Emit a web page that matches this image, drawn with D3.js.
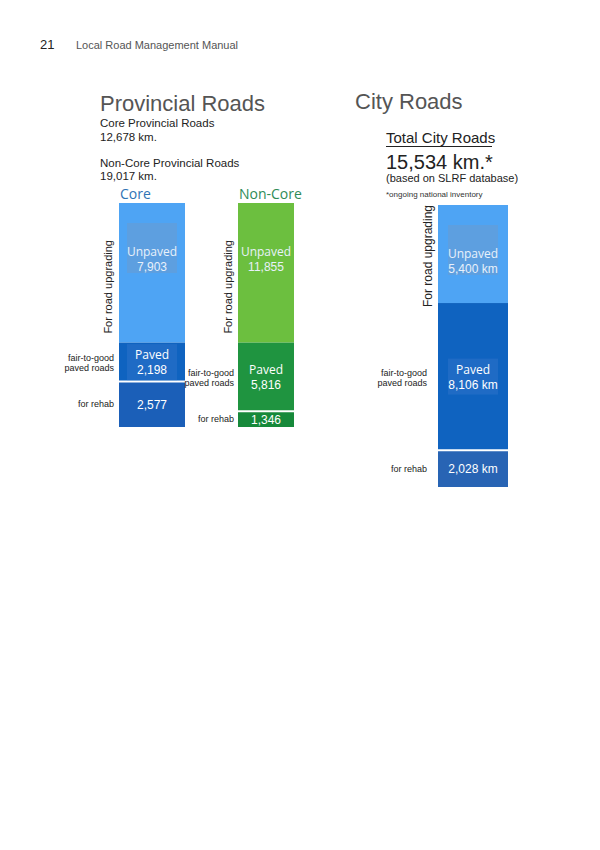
<!DOCTYPE html>
<html>
<head>
<meta charset="utf-8">
<script src="https://cdn.jsdelivr.net/npm/d3@7"></script>
<style>
  html, body { margin: 0; padding: 0; background: #fff; }
  svg { display: block; }
</style>
</head>
<body>
<svg id="chart" width="600" height="850"></svg>
<script>
// ---- data ----
const bars = ["Core", "Non-Core", "City"];
const segments = ["Unpaved", "Paved", "Rehab"];
const coreValues = [7903, 2198, 2577];
const nonCoreValues = [11855, 5816, 1346];
const cityValues = [5400, 8106, 2028];
const valueLabels = {
  "Core": ["7,903", "2,198", "2,577"],
  "Non-Core": ["11,855", "5,816", "1,346"],
  "City": ["5,400 km", "8,106 km", "2,028 km"]
};
const totals = { core: "12,678 km.", nonCore: "19,017 km.", city: "15,534 km.*" };

// ---- layout / style ----
const svg = d3.select("#chart");
const sans = "'Liberation Sans', Arial, sans-serif";
const soft = "'Open Sans', 'Noto Sans', sans-serif";

const layout = {
  "Core":     { x0: 119, x1: 185, y0: 203, y1: 427, values: coreValues,
                colors: ["#4ea4f4", "#0f63c0", "#1b5fb8"], box: ["#5d9fe0", "#1f6bc5", null],
                sideEnd: 114, rotX: 108, rotSize: 11, title: "Core", titleColor: "#2f74b5" },
  "Non-Core": { x0: 238, x1: 294, y0: 203, y1: 427, values: nonCoreValues,
                colors: ["#6cbf3f", "#1f9440", "#16893a"], box: [null, null, null],
                sideEnd: 234, rotX: 228, rotSize: 11, title: "Non-Core", titleColor: "#2e8b57" },
  "City":     { x0: 438, x1: 508, y0: 205, y1: 487, values: cityValues,
                colors: ["#4ea4f4", "#0f63c0", "#2864b4"], box: ["#5d9fe0", "#1f6bc5", null],
                sideEnd: 427, rotX: 428, rotSize: 12 }
};

// header
svg.append("text").attr("x", 40).attr("y", 49).attr("font-family", sans)
  .attr("font-size", 13).attr("fill", "#222").text("21");
svg.append("text").attr("x", 76).attr("y", 49).attr("font-family", sans)
  .attr("font-size", 11).attr("fill", "#555").text("Local Road Management Manual");

// Provincial texts
svg.append("text").attr("x", 100).attr("y", 111).attr("font-family", sans)
  .attr("font-size", 22).attr("fill", "#555").text("Provincial Roads");
const provLines = [
  ["Core Provincial Roads", 127], [totals.core, 141],
  ["Non-Core Provincial Roads", 167], [totals.nonCore, 180]
];
provLines.forEach(([t, y]) => svg.append("text").attr("x", 100).attr("y", y)
  .attr("font-family", sans).attr("font-size", 11.5).attr("fill", "#222").text(t));

// City texts
svg.append("text").attr("x", 355).attr("y", 109).attr("font-family", sans)
  .attr("font-size", 22).attr("fill", "#555").text("City Roads");
svg.append("text").attr("x", 386).attr("y", 143).attr("font-family", sans)
  .attr("font-size", 15).attr("fill", "#222").text("Total City Roads");
svg.append("line").attr("x1", 386).attr("x2", 492).attr("y1", 146.5).attr("y2", 146.5)
  .attr("stroke", "#222").attr("stroke-width", 1.2);
svg.append("text").attr("x", 386).attr("y", 169).attr("font-family", sans)
  .attr("font-size", 20).attr("fill", "#222").text(totals.city);
svg.append("text").attr("x", 386).attr("y", 182).attr("font-family", sans)
  .attr("font-size", 11).attr("fill", "#222").text("(based on SLRF database)");
svg.append("text").attr("x", 386).attr("y", 197).attr("font-family", sans)
  .attr("font-size", 8).attr("fill", "#333").text("*ongoing national inventory");

// bars
bars.forEach(name => {
  const L = layout[name];
  const total = d3.sum(L.values);
  const y = d3.scaleLinear().domain([0, total]).range([L.y0, L.y1]);
  const cum = d3.cumsum(L.values);
  const starts = [0, ...cum.slice(0, -1)];
  const cx = (L.x0 + L.x1) / 2;
  const g = svg.append("g");

  segments.forEach((s, i) => {
    const top = y(starts[i]), bot = y(cum[i]);
    g.append("rect").attr("x", L.x0).attr("y", top)
      .attr("width", L.x1 - L.x0).attr("height", bot - top)
      .attr("fill", L.colors[i]);
  });
  // separator between paved and rehab
  g.append("line").attr("x1", L.x0).attr("x2", L.x1)
    .attr("y1", y(cum[1])).attr("y2", y(cum[1]))
    .attr("stroke", "#fff").attr("stroke-width", 2);

  // Unpaved label (upper part)
  const uTop = y(0), uBot = y(cum[0]);
  if (L.box[0]) g.append("rect").attr("x", cx - 25).attr("y", uTop + 20)
    .attr("width", 50).attr("height", 50).attr("fill", L.box[0]);
  g.append("text").attr("x", cx).attr("y", uTop + 53).attr("text-anchor", "middle")
    .attr("font-family", soft).attr("font-size", 12).attr("fill", "#e8f1fb").text("Unpaved");
  g.append("text").attr("x", cx).attr("y", uTop + 68).attr("text-anchor", "middle")
    .attr("font-family", sans).attr("font-size", 12).attr("fill", "#e8f1fb").text(valueLabels[name][0]);

  // Paved label
  const pMid = (y(starts[1]) + y(cum[1])) / 2;
  if (L.box[1]) g.append("rect").attr("x", cx - 25).attr("y", pMid - 18)
    .attr("width", 50).attr("height", 36).attr("fill", L.box[1]);
  g.append("text").attr("x", cx).attr("y", pMid - 3).attr("text-anchor", "middle")
    .attr("font-family", soft).attr("font-size", 12).attr("fill", "#fff").text("Paved");
  g.append("text").attr("x", cx).attr("y", pMid + 12).attr("text-anchor", "middle")
    .attr("font-family", sans).attr("font-size", 12).attr("fill", "#fff").text(valueLabels[name][1]);

  // Rehab label
  const rMid = (y(starts[2]) + y(cum[2])) / 2;
  g.append("text").attr("x", cx).attr("y", rMid + 4.5).attr("text-anchor", "middle")
    .attr("font-family", sans).attr("font-size", 12).attr("fill", "#fff").text(valueLabels[name][2]);

  // side labels
  g.append("text").attr("x", L.sideEnd).attr("y", pMid - 1).attr("text-anchor", "end")
    .attr("font-family", sans).attr("font-size", 9).attr("fill", "#222").text("fair-to-good");
  g.append("text").attr("x", L.sideEnd).attr("y", pMid + 9).attr("text-anchor", "end")
    .attr("font-family", sans).attr("font-size", 9).attr("fill", "#222").text("paved roads");
  g.append("text").attr("x", L.sideEnd).attr("y", rMid + 3).attr("text-anchor", "end")
    .attr("font-family", sans).attr("font-size", 9).attr("fill", "#222").text("for rehab");

  // rotated "For road upgrading"
  const rotY = (uTop + uBot) / 2 + (name === "City" ? 2 : 14);
  g.append("text").attr("transform", `translate(${L.rotX + 4},${rotY}) rotate(-90)`)
    .attr("text-anchor", "middle").attr("font-family", sans).attr("font-size", L.rotSize)
    .attr("fill", "#222").text("For road upgrading");

  if (L.title) svg.append("text").attr("x", L.x0 + 1).attr("y", 199)
    .attr("font-family", soft).attr("font-size", 14).attr("fill", L.titleColor).text(L.title);
});
</script>
</body>
</html>
